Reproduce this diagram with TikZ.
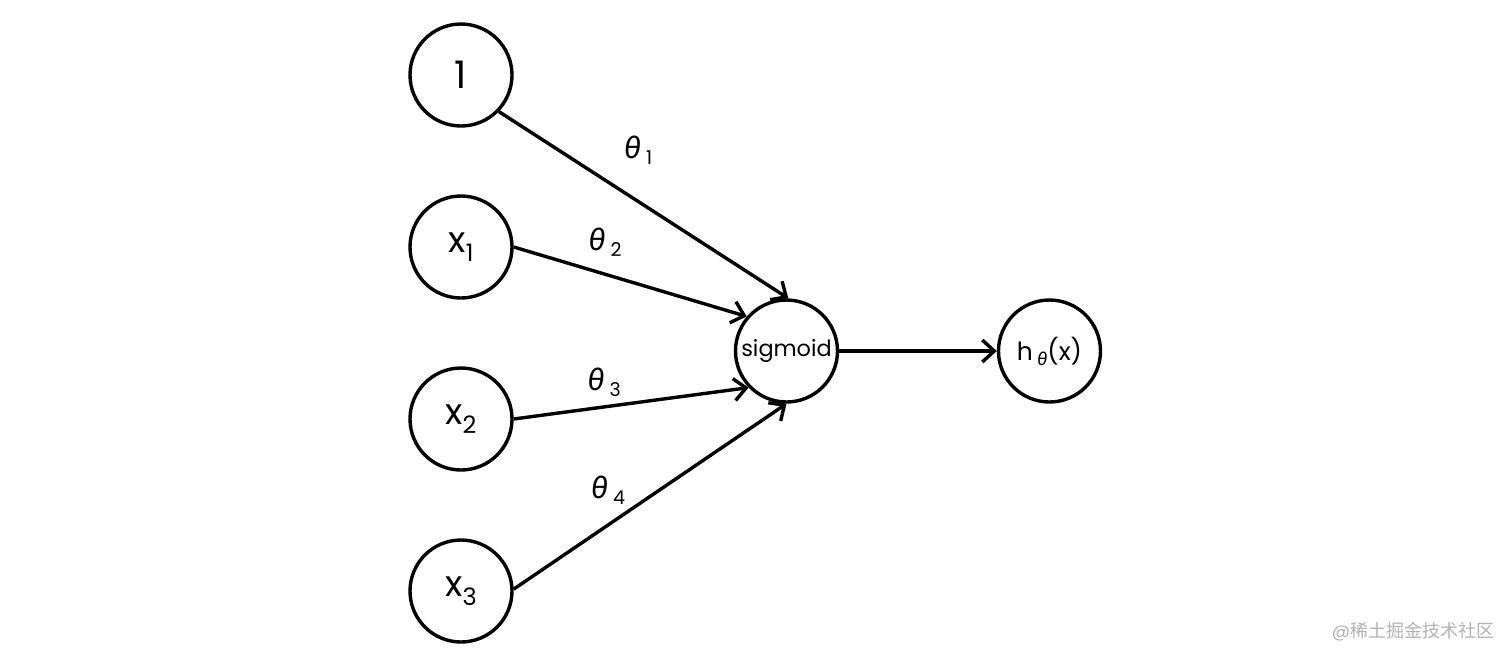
\documentclass[tikz,border=0pt]{standalone}
\usepackage{fontspec}
\setmainfont{Poppins}
\newfontfamily\grk{Fira Sans}
\newfontfamily\cjk{Noto Sans CJK SC}
\usetikzlibrary{arrows.meta}
\tikzset{
  neuron/.style={circle,draw=black,line width=1.7pt,minimum size=51pt,inner sep=0pt,fill=white},
  conn/.style={line width=1.7pt,-{Straight Barb[length=6pt,width=11pt,line width=1.7pt]}},
  wlabel/.style={inner sep=0pt,font=\fontsize{15}{16}\selectfont},
}
\newcommand{\thsub}[1]{{\grk\itshape θ}\,\raisebox{-3pt}{\fontsize{9.5}{10}\selectfont #1}}
\begin{document}
\begin{tikzpicture}[x=0.5pt,y=-0.5pt]
\useasboundingbox (0,0) rectangle (1512,661);
\node[neuron,font=\fontsize{19}{20}\selectfont] (n0) at (461,75) {1};
\node[neuron,font=\fontsize{18}{19}\selectfont] (n1) at (461,247) {x\raisebox{-4.5pt}{\fontsize{12}{13}\selectfont 1}};
\node[neuron,font=\fontsize{18}{19}\selectfont] (n2) at (461,419) {x\raisebox{-4.5pt}{\fontsize{12}{13}\selectfont 2}};
\node[neuron,font=\fontsize{18}{19}\selectfont] (n3) at (461,591) {x\raisebox{-4.5pt}{\fontsize{12}{13}\selectfont 3}};
\node[neuron,font=\fontsize{11.2}{12}\selectfont] (sig) at (786.5,351) {sigmoid};
\node[neuron,font=\fontsize{12.5}{13}\selectfont] (h) at (1049.5,351) {h\,\raisebox{-2.5pt}{\fontsize{9}{10}\selectfont\grk\itshape θ}(x)};
\draw[conn] (n0.-44) -- (sig.88);
\draw[conn] (n1.east) -- (sig.139);
\draw[conn] (n2.east) -- (sig.224);
\draw[conn] (n3.2) -- (sig.270);
\draw[conn] (sig.east) -- (h.west);
\node[wlabel] (t1) at (638,150) {\thsub{1}};
\node[wlabel] (t2) at (605,242) {\thsub{2}};
\node[wlabel] (t3) at (604,382) {\thsub{3}};
\node[wlabel] (t4) at (608,490) {\thsub{4}};
\node[inner sep=0pt,text=black!30,font=\fontsize{9}{10}\selectfont] (wm) at (1413,632) {@{\cjk 稀土掘金技术社区}};
\end{tikzpicture}
\end{document}
